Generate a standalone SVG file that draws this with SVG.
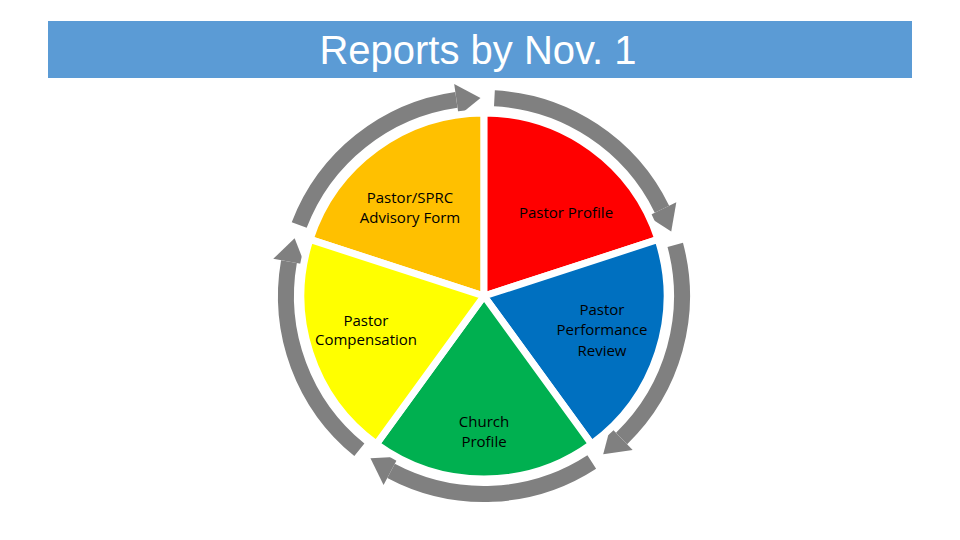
<svg xmlns="http://www.w3.org/2000/svg" width="960" height="540" viewBox="0 0 960 540">
<defs>
<style>
.w{stroke:#fff;stroke-width:7;stroke-linejoin:miter}
.lbl{font-family:"Open Sans","Liberation Sans",sans-serif;font-size:15px;fill:#000;text-anchor:middle}
.arc{fill:none;stroke:#808080;stroke-width:16}
.hd{fill:#808080}
</style>
<g id="arrowT">
<path class="arc" d="M299.2,225 A198,198 0 0 1 456.4,99.9"/>
<polygon class="hd" points="454.2,84.1 480.5,98 458.7,115.8"/>
</g>
<path id="wedgeT" d="M484,296 L310,239.4 A183,183 0 0 1 484,113 Z"/>
</defs>
<rect x="48" y="21" width="864" height="57" fill="#5B9BD5"/>
<text x="478" y="64" font-family="Liberation Sans,Arial,sans-serif" font-size="40" fill="#fff" text-anchor="middle">Reports by Nov. 1</text>
<g id="connectors">
<use href="#arrowT"/>
<use href="#arrowT" transform="rotate(72 484 296)"/>
<use href="#arrowT" transform="rotate(144 484 296)"/>
<use href="#arrowT" transform="rotate(216 484 296)"/>
<use href="#arrowT" transform="rotate(288 484 296)"/>
</g>
<g id="advisory"><use href="#wedgeT" class="w" fill="#FFC000"/><text class="lbl" x="410" y="203">Pastor/SPRC</text><text class="lbl" x="410" y="223">Advisory Form</text></g>
<g id="profile"><use href="#wedgeT" class="w" fill="#FF0000" transform="rotate(72 484 296)"/><text class="lbl" x="566" y="218">Pastor Profile</text></g>
<g id="performance"><use href="#wedgeT" class="w" fill="#0070C0" transform="rotate(144 484 296)"/><text class="lbl" x="602" y="315">Pastor</text><text class="lbl" x="602" y="335">Performance</text><text class="lbl" x="602" y="356">Review</text></g>
<g id="church"><use href="#wedgeT" class="w" fill="#00B050" transform="rotate(216 484 296)"/><text class="lbl" x="484" y="427">Church</text><text class="lbl" x="484" y="447">Profile</text></g>
<g id="compensation"><use href="#wedgeT" class="w" fill="#FFFF00" transform="rotate(288 484 296)"/><text class="lbl" x="366" y="326">Pastor</text><text class="lbl" x="366" y="345">Compensation</text></g>
</svg>
